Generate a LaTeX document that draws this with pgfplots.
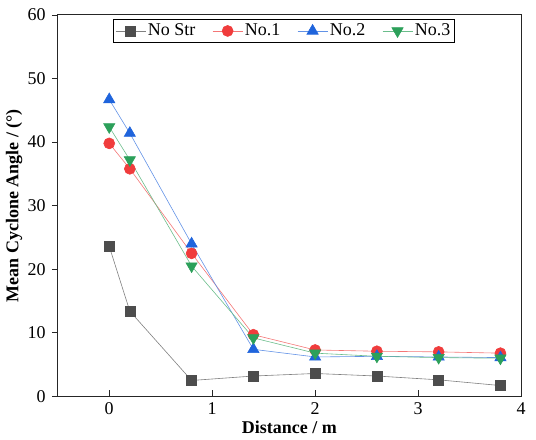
\documentclass[border=0pt]{standalone}
\usepackage{fontspec}
\setmainfont{Liberation Serif}
\usepackage{pgfplots}
\pgfplotsset{compat=1.18}
\definecolor{cgray}{HTML}{4D4D4D}
\definecolor{cred}{HTML}{F03C3C}
\definecolor{cblue}{HTML}{1F64DC}
\definecolor{cgreen}{HTML}{2CA05A}
\begin{document}
\fontsize{18bp}{20bp}\selectfont
\begin{tikzpicture}
\begin{axis}[
    name=ax,
    scale only axis,
    width=464bp,
    height=382bp,
    xmin=-0.5, xmax=4,
    ymin=0, ymax=60,
    xtick={0,1,2,3,4},
    ytick={0,10,20,30,40,50,60},
    xtick pos=bottom,
    ytick pos=left,
    xtick align=inside,
    ytick align=outside,
    major tick length=6bp,
    axis line style={line width=1pt, draw=black!85},
    tick style={line width=0.8pt, black!85},
    /pgf/number format/assume math mode=true,
    ticklabel style={font=\fontsize{18bp}{20bp}\selectfont},
    xlabel={\textbf{Distance / m}},
    ylabel={\textbf{Mean Cyclone Angle / (°)}},
    label style={font=\fontsize{18bp}{20bp}\selectfont},
    xlabel style={yshift=6bp},
    ylabel style={yshift=-7bp},
    legend columns=4,
    legend style={at={(0.488,0.99)}, anchor=north, draw=black, line width=0.8pt,
        font=\fontsize{18bp}{20bp}\selectfont, inner sep=2.5pt,
        /tikz/every even column/.append style={column sep=15bp}},
    legend cell align=left,
    legend image code/.code={
        \draw[mark repeat=2, mark phase=2] plot coordinates {(0bp,0bp) (15bp,0bp) (30bp,0bp)};
    },
]
\addplot[color=gray, line width=0.6pt, mark=square*, mark size=5bp,
    mark options={fill=cgray, draw=cgray}] coordinates {
    (0,23.6) (0.2,13.4) (0.8,2.5) (1.4,3.2) (2,3.6) (2.6,3.2) (3.2,2.6) (3.8,1.7)
};
\addlegendentry{No Str}
\addplot[color=cred!70, line width=0.6pt, mark=*, mark size=5.5bp,
    mark options={fill=cred, draw=cred}] coordinates {
    (0,39.8) (0.2,35.8) (0.8,22.5) (1.4,9.7) (2,7.3) (2.6,7.1) (3.2,7.0) (3.8,6.8)
};
\addlegendentry{No.1}
\addplot[color=cblue!70, line width=0.6pt, mark=triangle*, mark size=6.5bp,
    mark options={fill=cblue, draw=cblue}] coordinates {
    (0,46.7) (0.2,41.4) (0.8,24.0) (1.4,7.4) (2,6.2) (2.6,6.3) (3.2,6.2) (3.8,6.1)
};
\addlegendentry{No.2}
\addplot[color=cgreen!70, line width=0.6pt, mark=triangle*, mark size=6.5bp,
    mark options={fill=cgreen, draw=cgreen, rotate=180}] coordinates {
    (0,42.4) (0.2,37.2) (0.8,20.5) (1.4,9.2) (2,6.8) (2.6,6.3) (3.2,6.1) (3.8,6.0)
};
\addlegendentry{No.3}
\end{axis}
\path (ax.east) ++(15bp,0) coordinate (padr);
\path (ax.north) ++(0,15bp) coordinate (padt);
\useasboundingbox (current bounding box.south west) rectangle (padr |- padt);
\end{tikzpicture}
\end{document}
